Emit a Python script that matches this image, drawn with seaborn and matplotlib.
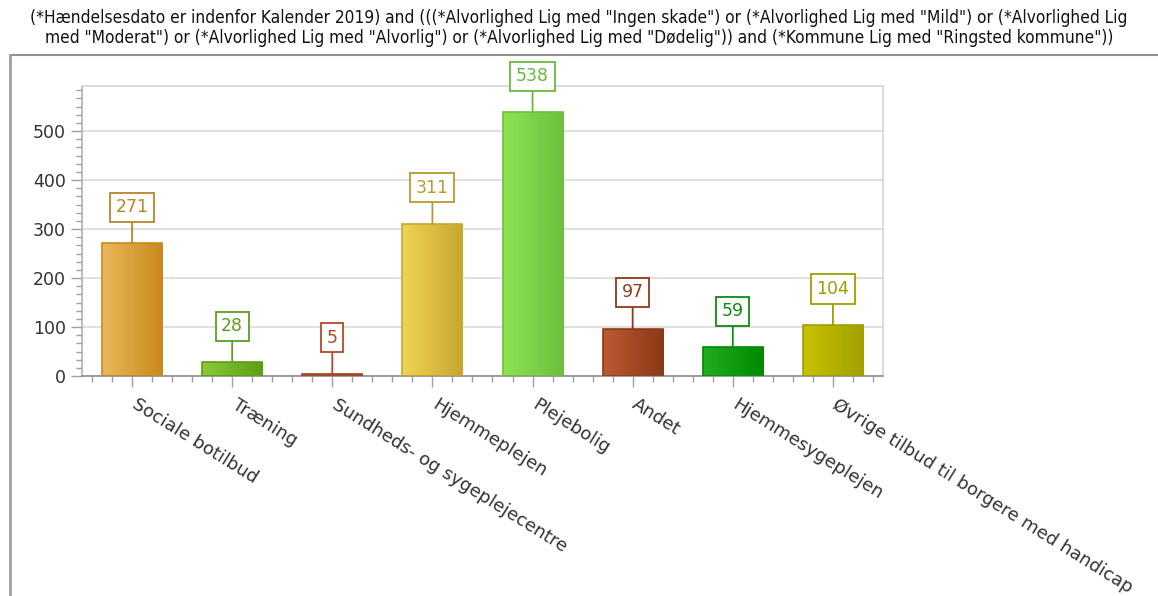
import matplotlib
matplotlib.use("Agg")
import matplotlib.pyplot as plt
import matplotlib.transforms as mtransforms
import seaborn as sns
import pandas as pd
import numpy as np
from matplotlib.colors import LinearSegmentedColormap
from matplotlib.ticker import MultipleLocator
from matplotlib.lines import Line2D

categories = ["Sociale botilbud", "Træning", "Sundheds- og sygeplejecentre", "Hjemmeplejen",
              "Plejebolig", "Andet", "Hjemmesygeplejen", "Øvrige tilbud til borgere med handicap"]
values = [271, 28, 5, 311, 538, 97, 59, 104]

# left (light) / right (dark) gradient colours and label colour per bar
light = ["#EBB85A", "#8CC83C", "#C65A30", "#F0D452", "#8CE450", "#BC5A32", "#22AC22", "#C8C200"]
dark = ["#C8891E", "#5C9E12", "#A84020", "#C8A630", "#6CC03E", "#8C3816", "#008A00", "#A0A000"]
label_colors = ["#B8862B", "#5E9E22", "#B04A24", "#B89A30", "#6AB840", "#8E3A1E", "#108A10", "#9E9E00"]

title = ('(*Hændelsesdato er indenfor Kalender 2019) and (((*Alvorlighed Lig med "Ingen skade") or '
         '(*Alvorlighed Lig med "Mild") or (*Alvorlighed Lig\nmed "Moderat") or (*Alvorlighed Lig med '
         '"Alvorlig") or (*Alvorlighed Lig med "Dødelig")) and (*Kommune Lig med "Ringsted kommune"))')

df = pd.DataFrame({"kategori": categories, "antal": values})

sns.set_theme(style="white")
plt.rcParams["font.family"] = ["DejaVu Sans"]

fig = plt.figure(figsize=(11.58, 5.96), dpi=100)
ax = fig.add_axes([0.0708, 0.369, 0.6917, 0.4867])

sns.barplot(data=df, x="kategori", y="antal", hue="kategori", palette=dark, width=0.6,
            legend=False, ax=ax, saturation=1)

for i, p in enumerate(ax.patches):
    x0, y0 = p.get_x(), p.get_y()
    w, h = p.get_width(), p.get_height()
    cmap = LinearSegmentedColormap.from_list("g", [light[i], dark[i]])
    grad = np.linspace(0, 1, 64).reshape(1, -1)
    im = ax.imshow(grad, cmap=cmap, extent=(x0, x0 + w, y0, y0 + h), aspect="auto",
                   zorder=2, interpolation="bilinear")
    im.set_clip_path(p)
    p.set_facecolor("none")
    p.set_edgecolor(dark[i])
    p.set_linewidth(1.2)
    p.set_zorder(3)

    # value label box with leader line
    top = y0 + h
    ax.annotate(str(values[i]), xy=(x0 + w / 2, top), xytext=(0, 26), textcoords="offset points",
                ha="center", va="center", fontsize=12.5, color=label_colors[i],
                bbox=dict(boxstyle="square,pad=0.32", fc="white", ec=label_colors[i], lw=1.3),
                arrowprops=dict(arrowstyle="-", color=label_colors[i], lw=1.3,
                                shrinkA=0, shrinkB=0), zorder=5)

ax.set_xlim(-0.5, len(categories) - 0.5)
ax.set_ylim(0, 592)
ax.yaxis.set_major_locator(MultipleLocator(100))
ax.yaxis.set_minor_locator(MultipleLocator(100 / 6))
ax.xaxis.set_minor_locator(MultipleLocator(0.2))
ax.set_xlabel("")
ax.set_ylabel("")
ax.grid(axis="y", color="#DADADA", lw=1.2, zorder=0)
ax.set_axisbelow(True)
for s in ax.spines.values():
    s.set_color("#D4D4D4")
    s.set_linewidth(1.2)
ax.spines["bottom"].set_color("#8C8C8C")
ax.spines["left"].set_color("#B0B0B0")

ax.tick_params(axis="both", which="major", direction="out", length=8, width=1,
               color="#A0A0A0", labelsize=12.5, labelcolor="#333333", bottom=True, left=True)
ax.tick_params(axis="both", which="minor", direction="out", length=4, width=1,
               color="#A0A0A0", bottom=True, left=True)
ax.tick_params(axis="x", which="major", pad=6)
ax.set_xticks(range(len(categories)))
ax.set_xticklabels(categories, rotation=-32, ha="left", va="top", rotation_mode="anchor",
                   fontsize=13, color="#333333")
shift = mtransforms.ScaledTranslation(6 / 100, 0, fig.dpi_scale_trans)
for lbl in ax.get_xticklabels():
    lbl.set_transform(lbl.get_transform() + shift)

fig.text(0.5, 0.953, title, ha="center", va="center", fontsize=12.4, color="#111111",
         fontstretch="condensed", linespacing=1.1)

# outer frame lines (top and left)
fig.add_artist(Line2D([10 / 1158, 1.0], [1 - 55 / 596, 1 - 55 / 596], color="#909090", lw=1.5,
                      transform=fig.transFigure))
fig.add_artist(Line2D([10 / 1158, 10 / 1158], [0.0, 1 - 55 / 596], color="#A0A0A0", lw=2,
                      transform=fig.transFigure))

fig.savefig("out.png", dpi=100)
plt.close(fig)
